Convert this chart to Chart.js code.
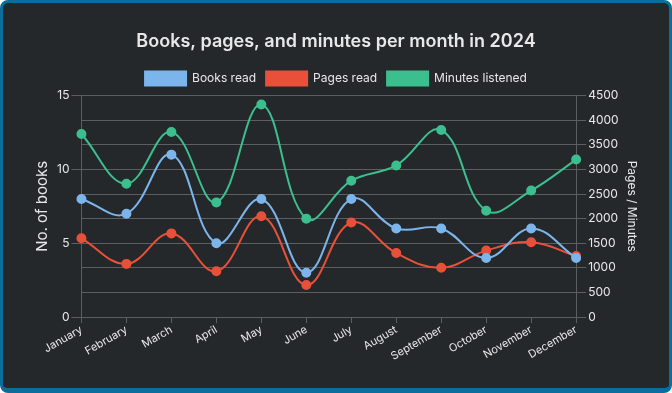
<!DOCTYPE html>
<html lang="en">
<head>
<meta charset="UTF-8">
<title>Books, pages, and minutes per month in 2024</title>
<script src="https://cdn.jsdelivr.net/npm/chart.js"></script>
<style>
    html, body {
        margin: 0;
        padding: 0;
        background: #ffffff;
    }
    .card {
        position: absolute;
        left: 0; top: 0;
        width: 672px;
        height: 393px;
        box-sizing: border-box;
        border: 3px solid #0b6d9c;
        border-bottom-width: 5px;
        border-radius: 8px;
        background: #25282a;
    }
    .chart-box {
        position: absolute;
        left: 0; top: 0; right: 0; bottom: 0;
    }
</style>
</head>
<body>
<div class="card">
    <div class="chart-box"><canvas id="readingChart"></canvas></div>
</div>
<script>
    const months = ['January', 'February', 'March', 'April', 'May', 'June',
                    'July', 'August', 'September', 'October', 'November', 'December'];
    const booksRead = [8, 7, 11, 5, 8, 3, 8, 6, 6, 4, 6, 4];
    const pagesRead = [1600, 1080, 1700, 930, 2050, 650, 1920, 1300, 1000, 1350, 1520, 1240];
    const minutesListened = [3720, 2710, 3760, 2330, 4320, 2000, 2770, 3080, 3800, 2160, 2570, 3200];

    const textColor = '#e8e8e8';
    const gridColor = '#5c5f62';
    const fontFamily = 'Inter, Lato, sans-serif';

    Chart.defaults.font.family = fontFamily;
    Chart.defaults.color = textColor;

    const ctx = document.getElementById('readingChart').getContext('2d');
    new Chart(ctx, {
        type: 'line',
        data: {
            labels: months,
            datasets: [{
                label: 'Books read',
                data: booksRead,
                yAxisID: 'yBooks',
                borderColor: '#7cb5ec',
                backgroundColor: '#7cb5ec',
                borderWidth: 2,
                pointRadius: 4,
                tension: 0.4
            }, {
                label: 'Pages read',
                data: pagesRead,
                yAxisID: 'yPages',
                borderColor: '#e8503a',
                backgroundColor: '#e8503a',
                borderWidth: 2,
                pointRadius: 4,
                tension: 0.4
            }, {
                label: 'Minutes listened',
                data: minutesListened,
                yAxisID: 'yPages',
                borderColor: '#3cbf8f',
                backgroundColor: '#3cbf8f',
                borderWidth: 2,
                pointRadius: 4,
                tension: 0.4
            }]
        },
        options: {
            responsive: true,
            maintainAspectRatio: false,
            animation: false,
            layout: {
                padding: { left: 26, right: 26, top: 14, bottom: 25 }
            },
            plugins: {
                title: {
                    display: true,
                    text: 'Books, pages, and minutes per month in 2024',
                    color: textColor,
                    font: { size: 18, weight: '600' },
                    padding: { top: 14, bottom: 9 }
                },
                legend: {
                    labels: {
                        boxWidth: 41,
                        boxHeight: 14,
                        color: textColor,
                        font: { size: 12 }
                    }
                },
                tooltip: { enabled: false }
            },
            scales: {
                x: {
                    offset: false,
                    grid: {
                        color: gridColor,
                        drawOnChartArea: false,
                        tickLength: 6
                    },
                    border: { color: gridColor },
                    ticks: {
                        color: textColor,
                        font: { size: 11 },
                        minRotation: 30,
                        maxRotation: 30,
                        padding: 0
                    }
                },
                yBooks: {
                    position: 'left',
                    min: 0,
                    max: 15,
                    grid: {
                        color: gridColor,
                        drawOnChartArea: false,
                        tickLength: 10
                    },
                    border: { color: gridColor },
                    ticks: {
                        stepSize: 5,
                        color: textColor,
                        font: { size: 12 },
                        padding: 2
                    },
                    title: {
                        display: true,
                        text: 'No. of books',
                        color: textColor,
                        font: { size: 15 }
                    }
                },
                yPages: {
                    position: 'right',
                    min: 0,
                    max: 4500,
                    grid: {
                        color: gridColor,
                        tickLength: 10
                    },
                    border: { color: gridColor },
                    ticks: {
                        stepSize: 500,
                        color: textColor,
                        font: { size: 12 },
                        padding: 2,
                        callback: v => String(v)
                    },
                    title: {
                        display: true,
                        text: 'Pages / Minutes',
                        color: textColor,
                        font: { size: 12 }
                    }
                }
            }
        }
    });
</script>
</body>
</html>
